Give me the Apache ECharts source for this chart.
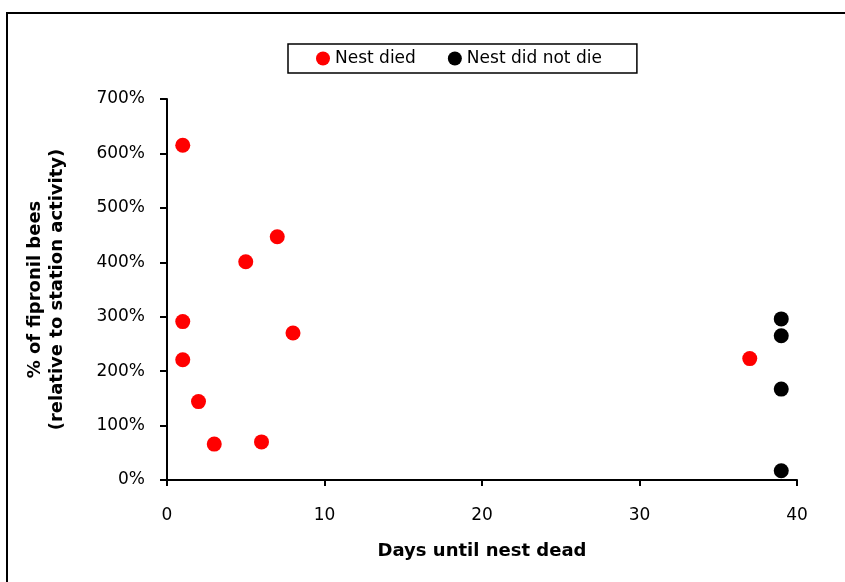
<!DOCTYPE html>
<html>
<head>
<meta charset="utf-8">
<script src="https://cdn.jsdelivr.net/npm/echarts@6/dist/echarts.min.js"></script>
<style>html,body{margin:0;padding:0;background:#fff;}#c{width:845px;height:582px;}</style>
</head>
<body>
<div id="c"></div>
<script>
const seriesNames = ['Nest died', 'Nest did not die'];
const diedDays = [1, 1, 1, 2, 3, 5, 6, 7, 8, 37];
const diedPct = [615, 291, 221, 144, 66, 401, 70, 447, 270, 223];
const aliveDays = [39, 39, 39, 39];
const alivePct = [296, 265, 167, 17];
const xTitle = 'Days until nest dead';
const yTitle = '% of fipronil bees\n(relative to station activity)';

const chart = echarts.init(document.getElementById('c'));
const font = '"DejaVu Sans", Verdana, sans-serif';
chart.setOption({
  animation: false,
  backgroundColor: '#fff',
  textStyle: { fontFamily: font },
  graphic: [{
    type: 'rect', shape: { x: 7, y: 13, width: 900, height: 700 },
    style: { fill: 'none', stroke: '#000', lineWidth: 2 }, silent: true
  }],
  legend: {
    left: 288, top: 44,
    data: seriesNames,
    icon: 'circle', itemWidth: 14, itemHeight: 14, itemGap: 32,
    borderColor: '#000', borderWidth: 1.5, borderRadius: 0,
    padding: [6, 35, 6, 28],
    textStyle: { fontSize: 17, color: '#000', fontFamily: font }
  },
  grid: { left: 167, right: 48, top: 99, bottom: 102 },
  xAxis: {
    type: 'value', min: 0, max: 40, interval: 10,
    name: xTitle, nameLocation: 'middle', nameGap: 62,
    nameTextStyle: { fontSize: 18, fontWeight: 'bold', color: '#000', fontFamily: font },
    axisLine: { lineStyle: { color: '#000', width: 2 } },
    axisTick: { length: 6, lineStyle: { color: '#000', width: 2 } },
    axisLabel: { fontSize: 17, color: '#000', margin: 27, fontFamily: font },
    splitLine: { show: false }
  },
  yAxis: {
    type: 'value', min: 0, max: 700, interval: 100,
    name: yTitle, nameLocation: 'middle', nameGap: 99, nameRotate: 90,
    nameTextStyle: { fontSize: 18, fontWeight: 'bold', color: '#000', lineHeight: 22, fontFamily: font },
    axisLine: { show: true, lineStyle: { color: '#000', width: 2 } },
    axisTick: { show: true, length: 7, lineStyle: { color: '#000', width: 2 } },
    axisLabel: { fontSize: 17, color: '#000', margin: 22, fontFamily: font, formatter: v => v + '%' },
    splitLine: { show: false }
  },
  series: [
    { name: seriesNames[0], type: 'scatter', symbolSize: 15, itemStyle: { color: '#ff0000', opacity: 1 },
      data: diedDays.map((d, i) => [d, diedPct[i]]) },
    { name: seriesNames[1], type: 'scatter', symbolSize: 15, itemStyle: { color: '#000000', opacity: 1 },
      data: aliveDays.map((d, i) => [d, alivePct[i]]) }
  ]
});
</script>
</body>
</html>
